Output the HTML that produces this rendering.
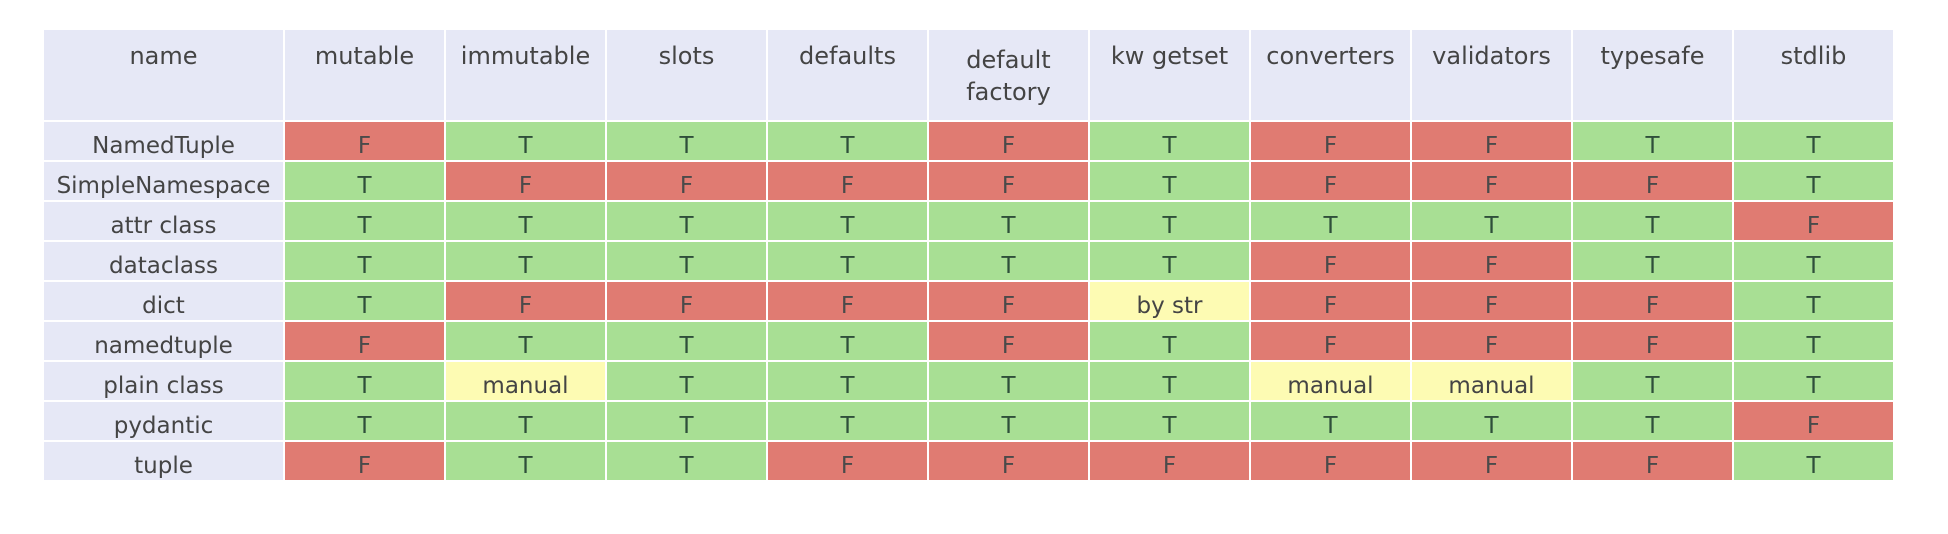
<!DOCTYPE html>
<html><head><meta charset="utf-8"><style>
body{margin:0;width:1948px;height:534px;background:#fff;overflow:hidden;font-family:"DejaVu Sans","Liberation Sans",sans-serif}
.g{position:absolute;left:44px;top:30px;display:grid;grid-template-columns:239px repeat(10,159px);grid-template-rows:90px repeat(9,38px);gap:2px;background:#fff}
.g div{display:flex;align-items:center;justify-content:center;font-size:23px;color:#444;padding-top:10px;box-sizing:border-box;white-space:nowrap}
.g div.h{background:#e6e8f6;align-items:flex-start;padding-top:10px;text-align:center;line-height:32px;font-size:24px}
.g div.h2{padding-top:14px}
.n{background:#e6e8f6}
.T{background:#a8df94;color:#2f4f3a!important}
.F{background:#e07b72;color:#4a4a4a!important}
.Y{background:#fdfbb3}
</style></head><body><div class="g">
<div class="h">name</div><div class="h">mutable</div><div class="h">immutable</div><div class="h">slots</div><div class="h">defaults</div><div class="h h2">default<br>factory</div><div class="h">kw getset</div><div class="h">converters</div><div class="h">validators</div><div class="h">typesafe</div><div class="h">stdlib</div>
<div class="n">NamedTuple</div><div class="F">F</div><div class="T">T</div><div class="T">T</div><div class="T">T</div><div class="F">F</div><div class="T">T</div><div class="F">F</div><div class="F">F</div><div class="T">T</div><div class="T">T</div>
<div class="n">SimpleNamespace</div><div class="T">T</div><div class="F">F</div><div class="F">F</div><div class="F">F</div><div class="F">F</div><div class="T">T</div><div class="F">F</div><div class="F">F</div><div class="F">F</div><div class="T">T</div>
<div class="n">attr class</div><div class="T">T</div><div class="T">T</div><div class="T">T</div><div class="T">T</div><div class="T">T</div><div class="T">T</div><div class="T">T</div><div class="T">T</div><div class="T">T</div><div class="F">F</div>
<div class="n">dataclass</div><div class="T">T</div><div class="T">T</div><div class="T">T</div><div class="T">T</div><div class="T">T</div><div class="T">T</div><div class="F">F</div><div class="F">F</div><div class="T">T</div><div class="T">T</div>
<div class="n">dict</div><div class="T">T</div><div class="F">F</div><div class="F">F</div><div class="F">F</div><div class="F">F</div><div class="Y">by str</div><div class="F">F</div><div class="F">F</div><div class="F">F</div><div class="T">T</div>
<div class="n">namedtuple</div><div class="F">F</div><div class="T">T</div><div class="T">T</div><div class="T">T</div><div class="F">F</div><div class="T">T</div><div class="F">F</div><div class="F">F</div><div class="F">F</div><div class="T">T</div>
<div class="n">plain class</div><div class="T">T</div><div class="Y">manual</div><div class="T">T</div><div class="T">T</div><div class="T">T</div><div class="T">T</div><div class="Y">manual</div><div class="Y">manual</div><div class="T">T</div><div class="T">T</div>
<div class="n">pydantic</div><div class="T">T</div><div class="T">T</div><div class="T">T</div><div class="T">T</div><div class="T">T</div><div class="T">T</div><div class="T">T</div><div class="T">T</div><div class="T">T</div><div class="F">F</div>
<div class="n">tuple</div><div class="F">F</div><div class="T">T</div><div class="T">T</div><div class="F">F</div><div class="F">F</div><div class="F">F</div><div class="F">F</div><div class="F">F</div><div class="F">F</div><div class="T">T</div>
</div></body></html>
